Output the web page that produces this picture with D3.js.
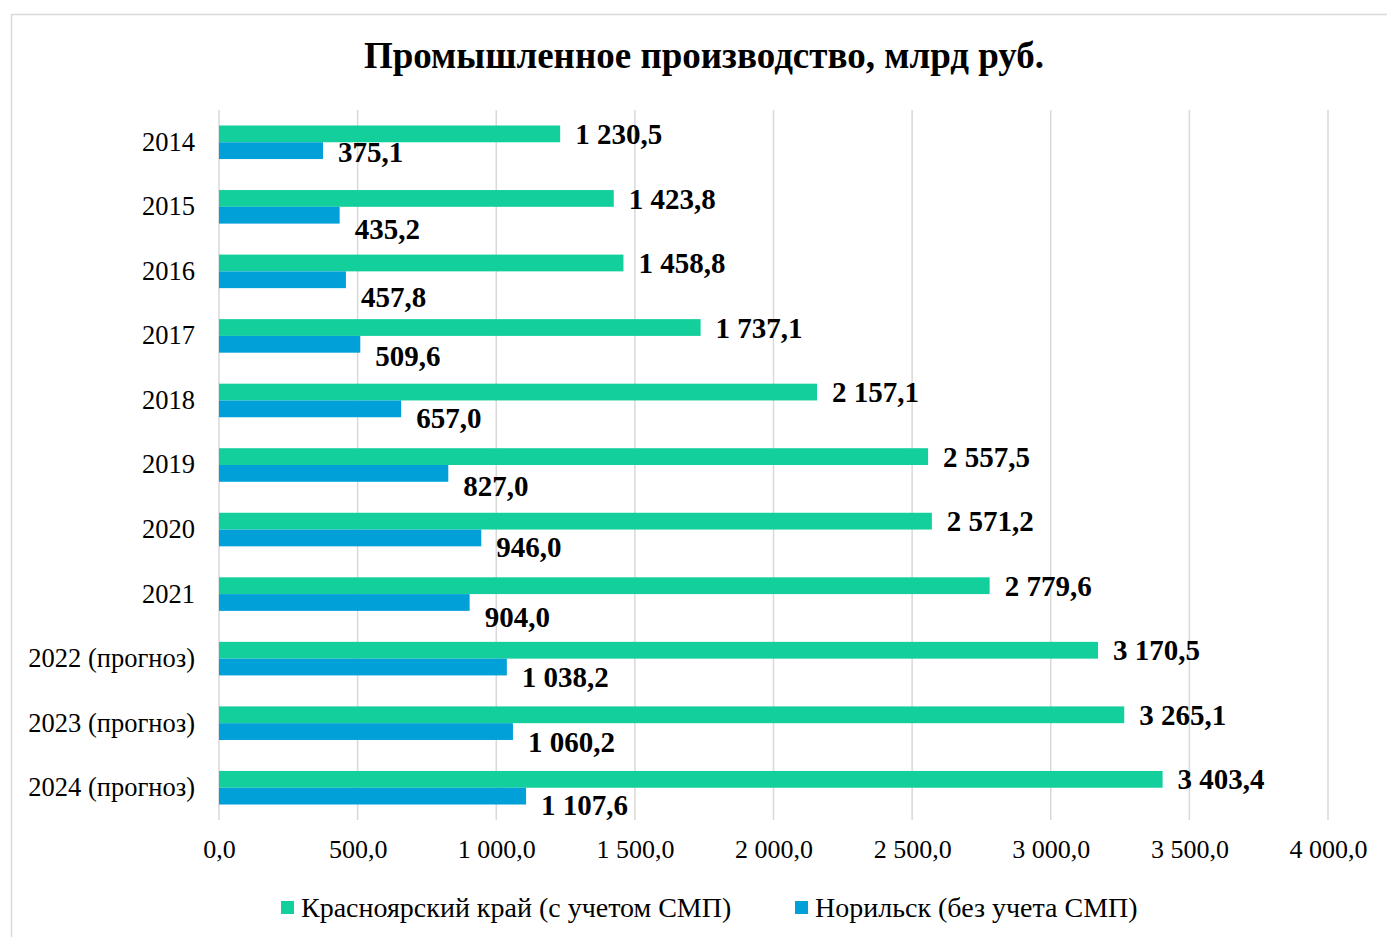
<!DOCTYPE html>
<html><head><meta charset="utf-8">
<script src="https://cdn.jsdelivr.net/npm/d3@7"></script>
<style>body{margin:0;background:#fff;}svg{display:block;}</style>
</head><body>
<svg id="c" width="1387" height="937"></svg>
<script>
const categories = ["2014","2015","2016","2017","2018","2019","2020","2021","2022 (прогноз)","2023 (прогноз)","2024 (прогноз)"];
const krasnoyarsk = [1230.5,1423.8,1458.8,1737.1,2157.1,2557.5,2571.2,2779.6,3170.5,3265.1,3403.4];
const norilsk = [375.1,435.2,457.8,509.6,657.0,827.0,946.0,904.0,1038.2,1060.2,1107.6];
const seriesNames = ["Красноярский край (с учетом СМП)","Норильск (без учета СМП)"];
const tickValues = [0,500,1000,1500,2000,2500,3000,3500,4000];
// label vertical offsets (px, relative to bar centre) as placed in the reference
const blueLabelShift = [1,14,17,12,9,12,9,14,10,10,9];

const colors = ["#13CF9C","#02A0D8"];
const fmt = v => { const s = v.toFixed(1).replace(".", ","); const [i,d]=s.split(","); return i.replace(/\B(?=(\d{3})+(?!\d))/g," ")+","+d; };

const svg = d3.select("#c");
const serif = "'Liberation Serif','Times New Roman',serif";
svg.append("rect").attr("x",11.5).attr("y",14.5).attr("width",1400).attr("height",950)
  .attr("fill","#fff").attr("stroke","#d9d9d9").attr("stroke-width",1.5);

svg.append("text").attr("x",704).attr("y",68).attr("text-anchor","middle")
  .attr("font-family",serif).attr("font-weight","bold").attr("font-size",37)
  .text("Промышленное производство, млрд руб.");

const x = d3.scaleLinear().domain([0,4000]).range([219,1328]);
const y = d3.scaleBand().domain(categories).range([110,820]).paddingInner(0.48).paddingOuter(0.24);
const sub = d3.scaleBand().domain([0,1]).range([0,y.bandwidth()]);

// gridlines
svg.append("g").selectAll("line").data(tickValues).join("line")
  .attr("x1",d=>x(d)).attr("x2",d=>x(d)).attr("y1",110).attr("y2",820)
  .attr("stroke","#d9d9d9").attr("stroke-width",1.5);

// x axis labels
const xa = svg.append("g").attr("transform","translate(0,820)")
  .call(d3.axisBottom(x).tickValues(tickValues).tickSize(0).tickPadding(20).tickFormat(fmt));
xa.select(".domain").remove();
xa.selectAll("text").attr("font-family",serif).attr("font-size",26).attr("fill","#000");

// y axis labels
const ya = svg.append("g").attr("transform","translate(219,0)")
  .call(d3.axisLeft(y).tickSize(0).tickPadding(24));
ya.select(".domain").remove();
ya.selectAll("text").attr("font-family",serif).attr("font-size",26.5).attr("fill","#000");

const data = [krasnoyarsk, norilsk];
data.forEach((vals,si)=>{
  const g = svg.append("g");
  g.selectAll("rect").data(vals).join("rect")
    .attr("x",x(0)).attr("y",(d,i)=>y(categories[i])+sub(si))
    .attr("width",d=>x(d)-x(0)).attr("height",sub.bandwidth())
    .attr("fill",colors[si]);
  g.selectAll("text").data(vals).join("text")
    .attr("x",d=>x(d)+15)
    .attr("y",(d,i)=>y(categories[i])+sub(si)+sub.bandwidth()/2 + (si===1?blueLabelShift[i]:0))
    .attr("dy","0.35em")
    .attr("font-family",serif).attr("font-weight","bold").attr("font-size",29)
    .text(d=>fmt(d));
});

// legend
const legX = [281,795];
seriesNames.forEach((n,i)=>{
  svg.append("rect").attr("x",legX[i]).attr("y",901).attr("width",13).attr("height",13).attr("fill",colors[i]);
  svg.append("text").attr("x",legX[i]+20).attr("y",917).attr("font-family",serif).attr("font-size",28).text(n);
});
</script>
</body></html>
